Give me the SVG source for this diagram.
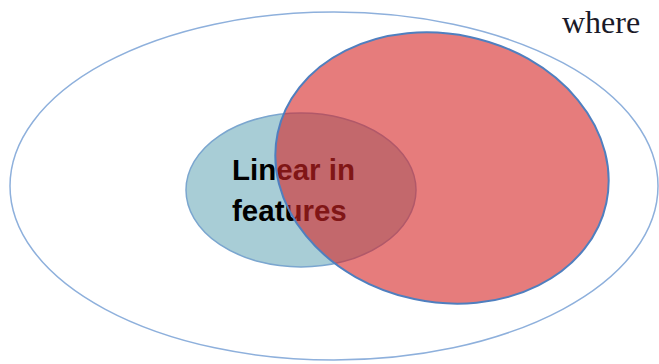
<svg xmlns="http://www.w3.org/2000/svg" width="659" height="364" viewBox="0 0 659 364">
<style>
.lbl{font-family:"Liberation Sans",Arial,sans-serif;font-weight:bold;font-size:29.5px;fill:#000}
.where{font-family:"Liberation Serif","Times New Roman",serif;font-size:32px;fill:#1a1a28}
</style>
<rect width="659" height="364" fill="#ffffff"/>
<g id="outer">
<ellipse cx="334" cy="186" rx="324" ry="174" fill="none" stroke="#8eb0dc" stroke-width="1.5"/>
</g>
<g id="linear">
<ellipse cx="301" cy="190" rx="115" ry="77" fill="#a8cdd6" stroke="#7ba6cf" stroke-width="1.5"/>
<text class="lbl" x="232" y="180">Linear in</text>
<text class="lbl" x="232" y="221">features</text>
</g>
<g id="red">
<ellipse cx="442" cy="168" rx="168" ry="134" transform="rotate(12 442 168)" fill="rgb(213,37,37)" fill-opacity="0.6" stroke="#4f7fbf" stroke-width="2"/>
</g>
<text class="where" x="562" y="33">where</text>
<g id="connectors"/>
</svg>
